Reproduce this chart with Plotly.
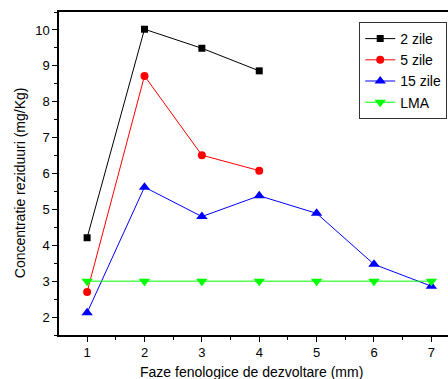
import plotly.graph_objects as go

phases = [1, 2, 3, 4, 5, 6, 7]
zile2 = [4.21, 10.02, 9.49, 8.86]
zile5 = [2.70, 8.72, 6.51, 6.08]
zile15 = [2.12, 5.62, 4.80, 5.38, 4.89, 3.47, 2.86]
lma = [3, 3, 3, 3, 3, 3, 3]

fig = go.Figure()
fig.add_trace(go.Scatter(x=phases[:4], y=zile2, name="2 zile", mode="lines+markers",
                         line=dict(color="black", width=1),
                         marker=dict(symbol="square", size=7, color="black")))
fig.add_trace(go.Scatter(x=phases[:4], y=zile5, name="5 zile", mode="lines+markers",
                         line=dict(color="#ff0000", width=1),
                         marker=dict(symbol="circle", size=8, color="#ff0000")))
fig.add_trace(go.Scatter(x=phases, y=zile15, name="15 zile", mode="lines+markers",
                         line=dict(color="#0000ff", width=1),
                         marker=dict(symbol="triangle-up", size=10, color="#0000ff")))
fig.add_trace(go.Scatter(x=phases, y=lma, name="LMA", mode="lines+markers",
                         line=dict(color="#00ff00", width=1),
                         marker=dict(symbol="triangle-down", size=10, color="#00ff00")))

fig.update_layout(
    width=448, height=379,
    margin=dict(l=59, r=0, t=12, b=44),
    paper_bgcolor="white", plot_bgcolor="white",
    font=dict(family="Liberation Sans, Arial", size=13, color="black"),
    showlegend=True,
    legend=dict(x=0.998, y=0.969, xanchor="right", yanchor="top",
                bordercolor="#333333", borderwidth=1, bgcolor="white",
                font=dict(size=14), tracegroupgap=0, itemwidth=30),
    xaxis=dict(range=[0.51, 7.29], tickvals=phases, ticks="outside", ticklen=5,
               tickwidth=1, tickcolor="black", showline=True, linecolor="black",
               linewidth=1.5, mirror=True, showgrid=False, zeroline=False,
               minor=dict(dtick=0.5, tick0=0.5, ticks="outside", ticklen=3,
                          tickcolor="black", tickwidth=1, showgrid=False),
               tickfont=dict(size=13)),
    yaxis=dict(range=[1.5, 10.5], tickvals=[2, 3, 4, 5, 6, 7, 8, 9, 10], ticks="outside",
               ticklen=5, tickwidth=1, tickcolor="black", showline=True,
               linecolor="black", linewidth=1.5, showgrid=False, zeroline=False,
               minor=dict(dtick=0.5, tick0=0.5, ticks="outside", ticklen=3,
                          tickcolor="black", tickwidth=1, showgrid=False),
               tickfont=dict(size=13)),
)
fig.add_annotation(text="Faze fenologice de dezvoltare (mm)", xref="paper", yref="paper",
                   x=0.495, y=0, yshift=-37, xanchor="center", yanchor="middle",
                   showarrow=False, font=dict(size=14))
fig.add_annotation(text="Concentratie reziduuri (mg/Kg)", xref="paper", yref="paper",
                   x=0, xshift=-39, y=0.47, textangle=-90, xanchor="center", yanchor="middle",
                   showarrow=False, font=dict(size=14))
fig.write_html("out.html")
